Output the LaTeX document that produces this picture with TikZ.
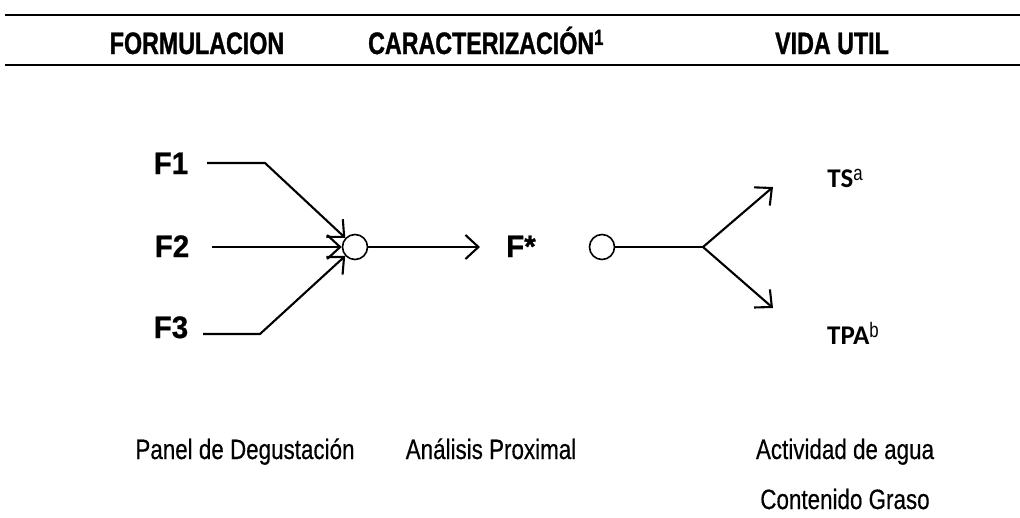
\documentclass[tikz,border=0pt]{standalone}
\usepackage{fontspec}
\setmainfont{Liberation Sans}
\newfontfamily\calib{Carlito}
\newfontfamily\hdrfont[FakeStretch=0.75,FakeBold=1]{Liberation Sans}
\newfontfamily\btfont[FakeStretch=0.8,FakeBold=0.4]{Liberation Sans}
\newfontfamily\supfont[FakeStretch=0.8]{Liberation Sans}
\newfontfamily\flfont[FakeStretch=0.95,FakeBold=0.8]{Liberation Sans}
\usetikzlibrary{arrows.meta}
\begin{document}
\begin{tikzpicture}[x=1pt,y=-1pt,line width=2.1pt,
  hdr/.style={font=\hdrfont\fontsize{31}{34}\selectfont\bfseries,anchor=base,inner sep=0pt},
  fl/.style={font=\flfont\fontsize{31}{34}\selectfont\bfseries,anchor=base,inner sep=0pt},
  tl/.style={inner sep=0pt,anchor=base},
  bt/.style={font=\btfont\fontsize{28}{32}\selectfont,anchor=base,inner sep=0pt},
  junc/.style={circle,draw,line width=1.6pt,minimum size=25pt,inner sep=0pt},
  ar/.style={-{Straight Barb[length=13pt,width=24pt,line width=2.1pt]}},
  rule/.style={line width=2.6pt}]
\useasboundingbox (0,0) rectangle (1020,517);
% header rules
\coordinate (t1) at (5,15);  \coordinate (t2) at (1020,15);
\coordinate (b1) at (5,65);  \coordinate (b2) at (1020,65);
\draw[rule] (t1) -- (t2);
\draw[rule] (b1) -- (b2);
\node[hdr] (h1) at (197,54) {FORMULACION};
\node[hdr] (h2) at (486,54) {CARACTERIZACIÓN\textsuperscript{\fontsize{22}{22}\selectfont 1}};
\node[hdr] (h3) at (832,54) {VIDA UTIL};
% inputs
\node[fl] (f1) at (171,174) {F1};
\node[fl] (f2) at (172,257) {F2};
\node[fl] (f3) at (171,338) {F3};
\node[junc] (c1) at (355,247) {};
\coordinate (s1) at (207,163); \coordinate (k1) at (265,163);
\coordinate (s2) at (212,247);
\coordinate (s3) at (203,334); \coordinate (k3) at (260,334);
\draw[ar] (s1) -- (k1) -- (c1);
\draw[ar] (s2) -- (c1);
\draw[ar] (s3) -- (k3) -- (c1);
\coordinate (o1) at (480,247);
\draw[ar] (c1) -- (o1);
\node[fl] (fs) at (521,257) {F*};
\node[junc] (c2) at (602,247) {};
\coordinate (sp) at (703,247);
\coordinate (u) at (773,187);
\coordinate (d) at (773,308);
\draw (c2) -- (sp);
\draw[ar] (sp) -- (u);
\draw[ar] (sp) -- (d);
\node[tl] (ts) at (845,187) {{\calib\bfseries\fontsize{27}{30}\selectfont TS}\raisebox{7pt}{\supfont\fontsize{21}{22}\selectfont a}};
\node[tl] (tpa) at (853,344) {{\calib\bfseries\fontsize{27}{30}\selectfont TPA}\raisebox{7pt}{\supfont\fontsize{21}{22}\selectfont b}};
% bottom labels
\node[bt] (p1) at (245,459) {Panel de Degustación};
\node[bt] (p2) at (491,459) {Análisis Proximal};
\node[bt] (p3) at (845,459) {Actividad de agua};
\node[bt] (p4) at (845,509) {Contenido Graso};
\end{tikzpicture}
\end{document}
